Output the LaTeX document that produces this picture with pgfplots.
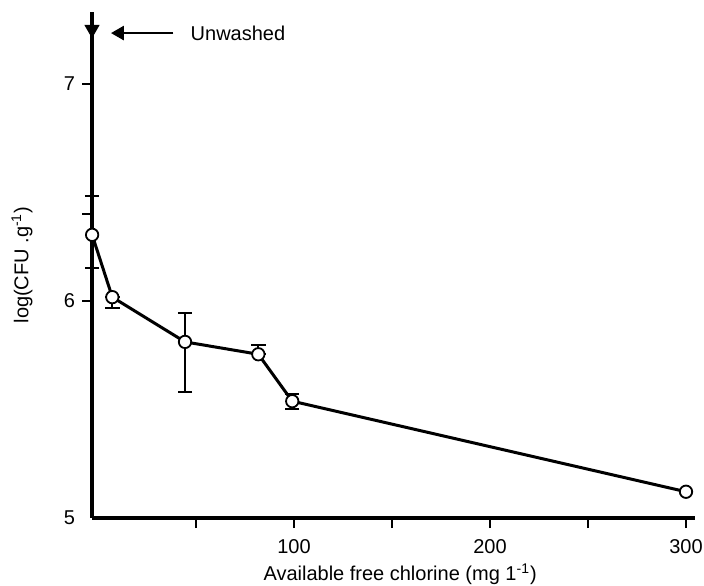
\documentclass[border=0pt]{standalone}
\usepackage{fontspec}
\setmainfont{Liberation Sans}
\usepackage{pgfplots}
\usepackage{pgfplotstable}
\pgfplotsset{compat=1.18}
\usetikzlibrary{arrows.meta}
\pgfplotstableread{
x y ep em
-3 6.304 0.181 0.155
7.3 6.017 0 0.048
44.4 5.811 0.135 0.230
81.8 5.754 0.041 0
99.1 5.538 0.035 0.037
300 5.121 0 0
}\chl
\begin{document}
\begin{tikzpicture}[font=\fontsize{10}{12}\selectfont]
\path[use as bounding box] (-46pt,-33.5pt) rectangle (306pt,259pt);
\begin{axis}[
 at={(0,0)}, anchor=south west,
 scale only axis, width=301.5pt, height=253pt,
 xmin=-3.06, xmax=304.6, ymin=5, ymax=7.33,
 axis x line=bottom, axis y line=left,
 axis line style={-, line width=1.6pt},
 tick align=outside, major tick length=5pt,
 tick style={line width=1.1pt, black},
 xtick={50,100,150,200,250,300}, xticklabels={,100,,200,,300},
 ytick={6,6.4,7}, yticklabels={6,,7},
 extra y ticks={5}, extra y tick labels={5},
 extra y tick style={tick style={draw=none}},
 /pgf/number format/assume math mode=true,
 xticklabel style={yshift=-2pt},
 xlabel={Available free chlorine (mg 1\textsuperscript{-1})},
 ylabel={log(CFU .g\textsuperscript{-1})},
 xlabel style={at={(axis description cs:0.511,0)}, anchor=center, yshift=-28pt},
 ylabel style={at={(axis description cs:-0.116,0.5)}, anchor=center},
 clip=false,
]
\addplot[black, only marks, mark=none, forget plot,
  error bars/.cd, y dir=both, y explicit,
  error bar style={line width=1pt, black},
  error mark=-,
  error mark options={rotate=90, black, line width=1pt, mark size=3.6pt}]
  table[x=x, y=y, y error plus=ep, y error minus=em]{\chl};
\addplot[black, line width=1.5pt, mark=*, mark size=3.1pt,
  mark options={fill=white, draw=black, line width=0.9pt}]
  table[x=x, y=y]{\chl};
\addplot[black, only marks, mark=triangle*, mark size=4pt,
  mark options={rotate=180, fill=black}] coordinates {(-3.06, 7.25)};
\draw[line width=1.4pt, -{Triangle[length=6.5pt, width=7pt]}] (axis cs:38.4,7.233) -- (axis cs:6.6,7.233);
\node[anchor=west, inner sep=0pt] at (axis cs:47.1,7.233) {Unwashed};
\end{axis}
\end{tikzpicture}
\end{document}
